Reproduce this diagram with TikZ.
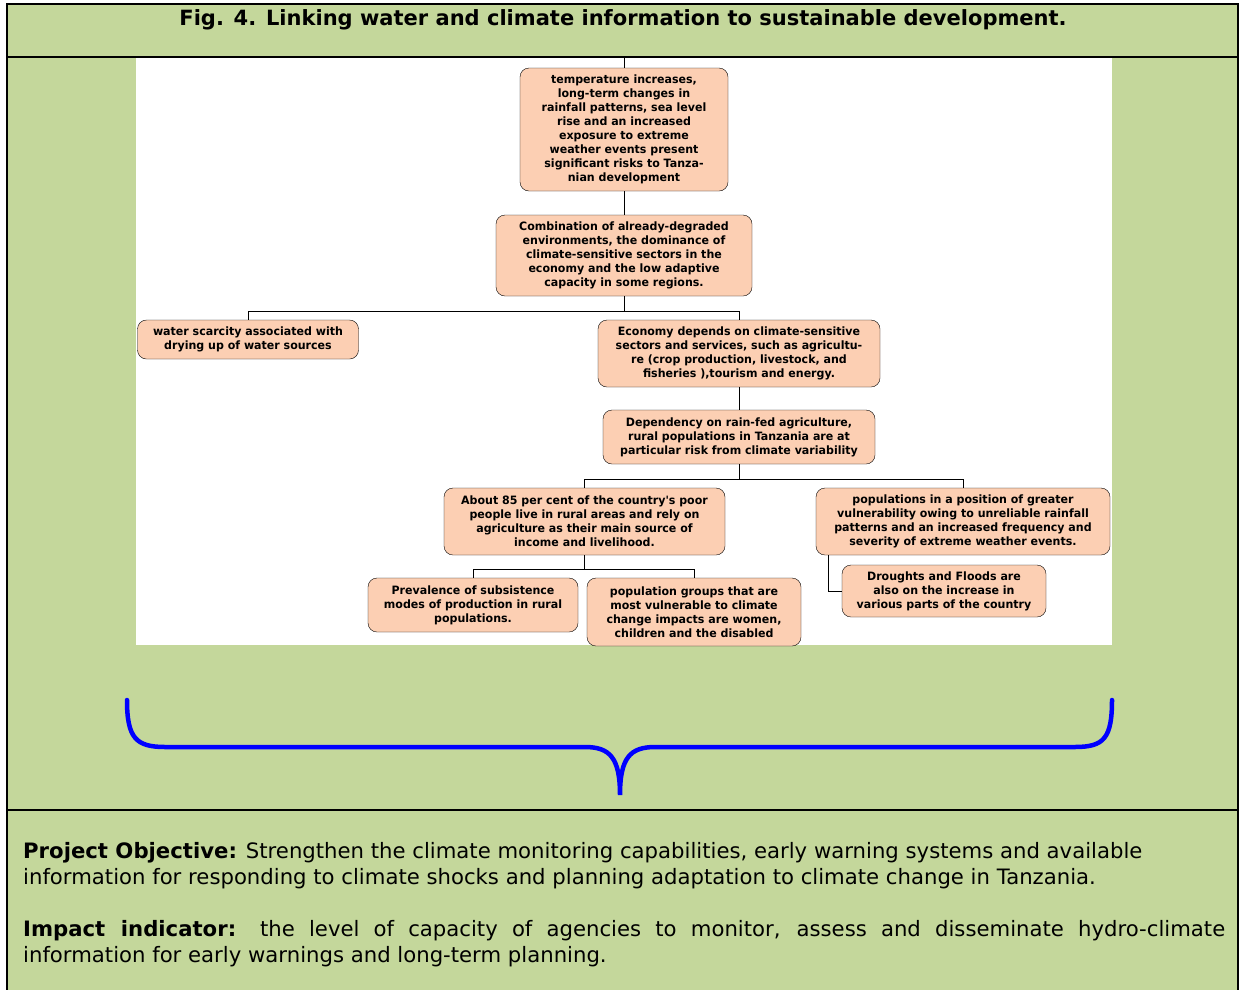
\documentclass[tikz,border=0pt]{standalone}
\usepackage{fontspec}
\setmainfont{DejaVu Sans}
\newfontfamily\boxfont[FakeStretch=0.96]{DejaVu Sans}
\usepackage{xcolor}
\usepackage{tikz}
\usetikzlibrary{positioning}
\definecolor{panelgreen}{HTML}{C4D79B}
\definecolor{boxpeach}{HTML}{FCCFB3}
\tikzstyle{cause} = [draw, fill=boxpeach, rounded corners=9pt, align=center, inner sep=2pt, font=\boxfont\bfseries\fontsize{11.5}{14}\selectfont]
\tikzstyle{link} = [draw, line width=0.9pt]
\tikzstyle{frameline} = [draw, line width=2pt]

\begin{document}
\begin{tikzpicture}[x=1pt, y=-1pt]
\useasboundingbox (0,0) rectangle (1245,989);
\clip (0,0) rectangle (1245,989);
% frame and panels
\fill[panelgreen] (7,4) rectangle (1238,995);
\fill[white] (136,57) rectangle (1112,645);
\draw[frameline] (7,4) rectangle (1238,995);
\draw[frameline] (7,57) -- (1238,57);
\draw[frameline] (7,810) -- (1238,810);
\node [font=\bfseries\fontsize{21}{24}\selectfont] (title) at (623,20)
{Fig. 4. Linking water and climate information to sustainable development.};

% tree of causes
\node [cause, minimum width=208pt, minimum height=123pt] (risk) at (624,129.5)
{temperature increases,\\ long-term changes in\\ rainfall patterns, sea level\\
	rise and an increased\\ exposure to extreme\\ weather events present\\
	significant risks to Tanza-\\ nian development};
\node [cause, minimum width=256pt, minimum height=81pt] (combo) at (624,255.5)
{Combination of already-degraded\\ environments, the dominance of\\
	climate-sensitive sectors in the\\ economy and the low adaptive\\
	capacity in some regions.};
\node [cause, minimum width=221pt, minimum height=39pt] (water) at (248,339.5)
{water scarcity associated with\\ drying up of water sources};
\node [cause, minimum width=282pt, minimum height=67pt] (econ) at (739,353.5)
{Economy depends on climate-sensitive\\ sectors and services, such as agricultu-\\
	re (crop production, livestock, and\\ fisheries ),tourism and energy.};
\node [cause, minimum width=272pt, minimum height=54pt] (dep) at (739,437)
{Dependency on rain-fed agriculture,\\ rural populations in Tanzania are at\\
	particular risk from climate variability};
\node [cause, minimum width=281pt, minimum height=67pt] (poor) at (584.5,521.5)
{About 85 per cent of the country's poor\\ people live in rural areas and rely on\\
	agriculture as their main source of\\ income and livelihood.};
\node [cause, minimum width=294pt, minimum height=67pt] (vuln) at (963,521.5)
{populations in a position of greater\\ vulnerability owing to unreliable rainfall\\
	patterns and an increased frequency and\\ severity of extreme weather events.};
\node [cause, minimum width=210pt, minimum height=54pt] (subs) at (473,605)
{Prevalence of subsistence\\ modes of production in rural\\ populations.};
\node [cause, minimum width=214pt, minimum height=68pt] (groups) at (694,612)
{population groups that are\\ most vulnerable to climate\\
	change impacts are women,\\ children and the disabled};
\node [cause, minimum width=204pt, minimum height=52pt] (flood) at (944,591)
{Droughts and Floods are\\ also on the increase in\\ various parts of the country};

% connectors
\coordinate (stem) at (624,57);
\draw [link] (stem) -- (risk.north);
\draw [link] (risk.south) -- (combo.north);
\draw [link] (combo.south) -- ++(0,15) -| (water.north);
\draw [link] (combo.south) ++(0,15) -| (econ.north);
\draw [link] (econ.south) -- (dep.north);
\draw [link] (dep.south) -- ++(0,15) -| (poor.north);
\draw [link] (dep.south) ++(0,15) -| (vuln.north);
\draw [link] (poor.south) -- ++(0,14) -| (subs.north);
\draw [link] (poor.south) ++(0,14) -| (groups.north);
\draw [link] ([xshift=13pt]vuln.south west) |- (flood.west);

% brace
\draw [blue, line width=4.5pt, line cap=round]
(127,700) .. controls (127,738) and (136,747) .. (165,747) -- (585,747)
.. controls (610,747) and (620,758) .. (620,795)
.. controls (620,758) and (630,747) .. (655,747) -- (1075,747)
.. controls (1104,747) and (1112,738) .. (1112,700);

% objective and indicator
\node [anchor=north west, inner sep=0pt, align=left,
	font=\fontsize{21.2}{26}\selectfont] (objective) at (23,842)
{\textbf{Project Objective:} Strengthen the climate monitoring capabilities, early warning systems and available\\
	information for responding to climate shocks and planning adaptation to climate change in Tanzania.};
\node [anchor=north west, inner sep=0pt, text width=1202pt, align=justify,
	font=\fontsize{21.2}{26}\selectfont] (indicator) at (23,920)
{\textbf{Impact indicator:} the level of capacity of agencies to monitor, assess and disseminate hydro-climate\linebreak
	information for early warnings and long-term planning.};
\end{tikzpicture}
\end{document}
